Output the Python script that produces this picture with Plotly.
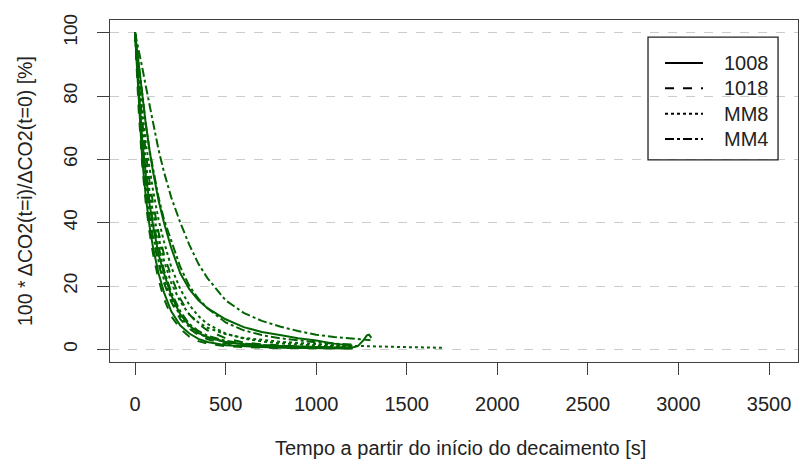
import plotly.graph_objects as go

GREEN = "#006400"

# time grid shared by most decay runs [s]
TIME = [0, 20, 40, 60, 80, 100, 130, 160, 200, 250, 300, 350, 400,
        500, 600, 700, 800, 900, 1000, 1100, 1200]

# 1008 (solid)
Y_1008_A = [100, 82, 66, 55, 46, 39, 30, 24, 17, 11, 7.5, 5.2, 3.8,
            2.3, 1.6, 1.2, 1.0, 0.8, 0.6, 0.5, 0.6]
T_1008_A_TAIL = [1230, 1260, 1280, 1292, 1305]
Y_1008_A_TAIL = [1.0, 2.8, 4.4, 4.6, 3.6]
Y_1008_B = [100, 90, 80, 71, 63, 56, 47, 40, 32, 24, 19, 15.5, 13,
            9.5, 7, 5.5, 4.5, 3.5, 2.8, 1.8, 1.1]
Y_1008_C = [100, 78, 60, 48, 39, 32, 24, 18, 12, 7.5, 5, 3.3, 2.3,
            1.3, 0.9, 0.7, 0.5, 0.4, 0.3, 0.3, 0.3]

# 1018 (dashed)
Y_1018_A = [100, 80, 63, 51, 42, 35, 27, 21, 15, 9.5, 6.5, 4.5, 3.2,
            1.8, 1.2, 0.9, 0.7, 0.6, 0.5, 0.4, 0.4]
Y_1018_B = [100, 85, 72, 62, 53, 46, 37, 30, 23, 16, 11, 8, 6,
            3.5, 2.2, 1.6, 1.2, 0.9, 0.7, 0.6, 0.5]
Y_1018_C = [100, 76, 58, 46, 37, 30, 22, 16, 10.5, 6.5, 4, 2.6, 1.8,
            1.0, 0.7, 0.5, 0.4, 0.4, 0.3, 0.3, 0.3]

# MM8 (dotted)
Y_MM8_A = [100, 84, 70, 59, 50, 43, 35, 28, 21, 15, 11, 8.5, 6.8,
           4.8, 3.6, 2.9, 2.4, 2.0, 1.6, 1.3, 1.1]
T_MM8_A_TAIL = [1300, 1400, 1500, 1600, 1700]
Y_MM8_A_TAIL = [0.9, 0.8, 0.7, 0.6, 0.5]
Y_MM8_B = [100, 80, 64, 52, 43, 36, 28, 22, 16, 10.5, 7, 5, 3.8,
           2.3, 1.6, 1.2, 1.0, 0.8, 0.7, 0.6, 0.5]
Y_MM8_C = [100, 87, 75, 65, 57, 50, 41, 34, 26, 19, 14, 10.5, 8,
           5, 3.4, 2.5, 1.9, 1.5, 1.2, 1.0, 0.9]

# MM4 (dash-dot)
Y_MM4_A = [100, 95, 89, 83, 77, 71, 63, 56, 48, 40, 33, 27, 22.5,
           15.5, 11.5, 9, 7.2, 5.8, 4.6, 3.9, 3.3]
T_MM4_A_TAIL = [1300]
Y_MM4_A_TAIL = [2.9]
Y_MM4_B = [100, 90, 80, 71, 63, 57, 48, 41, 34, 26, 20, 16, 13,
           8.5, 6, 4.5, 3.5, 2.8, 2.2, 1.8, 1.5]
Y_MM4_C = [100, 82, 67, 56, 47, 40, 32, 25, 18, 12, 8, 5.8, 4.3,
           2.7, 1.8, 1.3, 1.0, 0.8, 0.7, 0.6, 0.5]

SERIES = ["1008", "1018", "MM8", "MM4"]
DASH = {"1008": "solid", "1018": "dash", "MM8": "dot", "MM4": "dashdot"}

runs = [
    ("1008", TIME + T_1008_A_TAIL, Y_1008_A + Y_1008_A_TAIL),
    ("1008", TIME, Y_1008_B),
    ("1008", TIME, Y_1008_C),
    ("1018", TIME, Y_1018_A),
    ("1018", TIME, Y_1018_B),
    ("1018", TIME, Y_1018_C),
    ("MM8", TIME + T_MM8_A_TAIL, Y_MM8_A + Y_MM8_A_TAIL),
    ("MM8", TIME, Y_MM8_B),
    ("MM8", TIME, Y_MM8_C),
    ("MM4", TIME + T_MM4_A_TAIL, Y_MM4_A + Y_MM4_A_TAIL),
    ("MM4", TIME, Y_MM4_B),
    ("MM4", TIME, Y_MM4_C),
]

FONT = "Liberation Sans, Arial, sans-serif"
AX = "#404040"

fig = go.Figure()
for s, t, y in runs:
    fig.add_trace(go.Scatter(x=t, y=y, mode="lines", showlegend=False,
                             line=dict(color=GREEN, width=2, dash=DASH[s])))

# R-style legend box drawn by hand (plotly's legend rows are too tall at 20px)
shapes = [dict(type="rect", xref="paper", yref="paper",
               x0=0.782, x1=0.971, y0=0.591, y1=0.950,
               line=dict(color="#222", width=1.3))]
annotations = []
KEY_X0, KEY_X1, TXT_X = 0.8067, 0.8619, 0.8895
ROW0, ROWSTEP = 0.8743, 0.0741
for i, s in enumerate(SERIES):
    yy = ROW0 - i * ROWSTEP
    shapes.append(dict(type="line", xref="paper", yref="paper",
                       x0=KEY_X0, x1=KEY_X1, y0=yy, y1=yy,
                       line=dict(color="black", width=2, dash=DASH[s])))
    annotations.append(dict(text=s, xref="paper", yref="paper", x=TXT_X, y=yy,
                            xanchor="left", yanchor="middle", showarrow=False,
                            font=dict(size=20)))

annotations += [
    dict(text="Tempo a partir do início do decaimento [s]", xref="paper",
         yref="paper", x=0.51, y=-0.25, showarrow=False,
         xanchor="center", yanchor="middle", font=dict(size=20)),
    dict(text="100 * ΔCO2(t=i)/ΔCO2(t=0) [%]", xref="paper", yref="paper",
         x=-0.1235, y=0.5, textangle=-90, showarrow=False,
         xanchor="center", yanchor="middle", font=dict(size=19.5)),
]

fig.update_layout(
    width=799, height=459,
    margin=dict(l=110, r=1, t=20, b=97),
    paper_bgcolor="white", plot_bgcolor="white",
    font=dict(family=FONT, size=20, color="#222"),
    showlegend=False,
    shapes=shapes,
    annotations=annotations,
)
fig.update_xaxes(range=[-138, 3660], tickvals=[0, 500, 1000, 1500, 2000, 2500, 3000, 3500],
                 showgrid=False, zeroline=False, showline=True, mirror=True,
                 linecolor=AX, linewidth=1.3, ticks="outside", ticklen=12,
                 tickcolor=AX, ticklabelstandoff=12, tickfont=dict(size=20))
fig.update_yaxes(range=[-4, 104], tickvals=[0, 20, 40, 60, 80, 100], tickangle=-90,
                 showgrid=True, gridcolor="#cccccc", griddash="dash", gridwidth=1,
                 zeroline=False, showline=True, mirror=True,
                 linecolor=AX, linewidth=1.3, ticks="outside", ticklen=12,
                 tickcolor=AX, ticklabelstandoff=12, tickfont=dict(size=19))

fig.write_html("out.html", config={"displayModeBar": False},
               post_script="document.body.style.margin='0';")
